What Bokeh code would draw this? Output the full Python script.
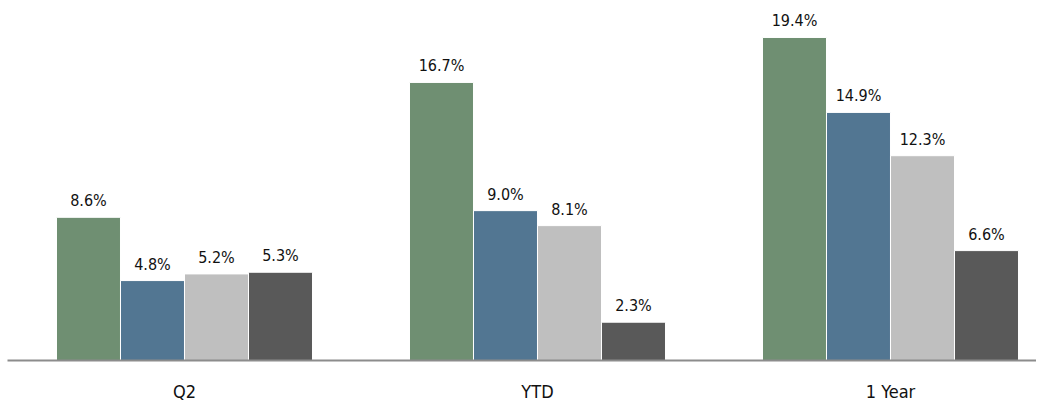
from bokeh.plotting import figure
from bokeh.models import ColumnDataSource, Range1d, FixedTicker
from bokeh.core.properties import value
from bokeh.embed import file_html
from bokeh.resources import INLINE

categories = ["Q2", "YTD", "1 Year"]
series_a = [8.6, 16.7, 19.4]
series_b = [4.8, 9.0, 14.9]
series_c = [5.2, 8.1, 12.3]
series_d = [5.3, 2.3, 6.6]

colors = ["#6f8f72", "#527692", "#bfbfbf", "#595959"]
FONT = "DejaVu Sans Condensed"

p = figure(width=1036, height=404, output_backend="svg", toolbar_location=None,
           x_range=Range1d(-0.5014, 2.4136), y_range=Range1d(0, 21.62),
           min_border_left=7, min_border_right=0, min_border_top=0, min_border_bottom=0)

w = 64 / 353
offsets = [-1.5 * w, -0.5 * w, 0.5 * w, 1.5 * w]
for s, off, col in zip([series_a, series_b, series_c, series_d], offsets, colors):
    xs = [i + off for i in range(len(categories))]
    src = ColumnDataSource(dict(x=xs, top=s, lab=[f"{v:.1f}%" for v in s]))
    p.vbar(x="x", top="top", width=w, bottom=0, source=src, fill_color=col,
           line_color="white", line_width=1)
    p.text(x="x", y="top", text="lab", source=src, text_align="center",
           text_baseline="bottom", y_offset=-7, text_font=value(FONT),
           text_font_size="16px", text_color="#111111")

p.xaxis.ticker = FixedTicker(ticks=[0, 1, 2])
p.xaxis.major_label_overrides = {0: "Q2", 1: "YTD", 2: "1 Year"}
p.xaxis.major_label_text_font = FONT
p.xaxis.major_label_text_font_size = "18px"
p.xaxis.major_label_text_color = "#111111"
p.xaxis.major_label_standoff = 14
p.xaxis.major_tick_line_color = None
p.xaxis.minor_tick_line_color = None
p.xaxis.axis_line_color = "#8c8c8c"
p.xaxis.axis_line_width = 2
p.yaxis.visible = False
p.xgrid.visible = False
p.ygrid.visible = False
p.outline_line_color = None

open("out.html", "w").write(file_html(p, INLINE))
